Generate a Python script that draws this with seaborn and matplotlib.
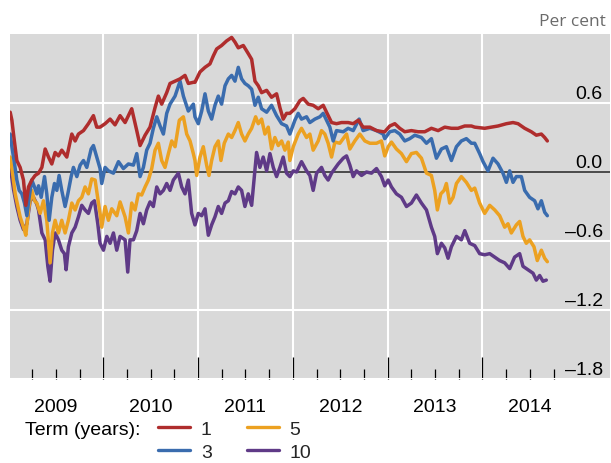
import matplotlib
matplotlib.use("Agg")
from matplotlib import pyplot as plt
from matplotlib.lines import Line2D
import pandas as pd
import seaborn as sns

# values: time as decimal year, spread in per cent
t_1 = [2009.018, 2009.036, 2009.053, 2009.088, 2009.123, 2009.158, 2009.183, 2009.211, 2009.246, 2009.281,
       2009.317, 2009.352, 2009.387, 2009.422, 2009.457, 2009.492, 2009.527, 2009.562, 2009.615, 2009.668,
       2009.703, 2009.738, 2009.791, 2009.843, 2009.896, 2009.931,
       2009.966, 2010.019, 2010.072, 2010.124, 2010.177, 2010.230, 2010.300, 2010.353, 2010.388, 2010.441,
       2010.493, 2010.546, 2010.581, 2010.616, 2010.669, 2010.704, 2010.757, 2010.810, 2010.862, 2010.897, 2010.950,
       2010.967, 2011.020, 2011.073, 2011.125, 2011.161, 2011.196, 2011.248, 2011.301, 2011.354, 2011.389,
       2011.424, 2011.477, 2011.529, 2011.565, 2011.600, 2011.635, 2011.670, 2011.723, 2011.775, 2011.828,
       2011.863, 2011.898, 2011.933,
       2011.968, 2012.021, 2012.074, 2012.109, 2012.162, 2012.214, 2012.267, 2012.320, 2012.355, 2012.408,
       2012.460, 2012.513, 2012.583, 2012.636, 2012.689, 2012.741, 2012.812, 2012.882, 2012.952,
       2012.969, 2013.022, 2013.075, 2013.127, 2013.180, 2013.250, 2013.321, 2013.391, 2013.461, 2013.532,
       2013.602, 2013.672, 2013.742, 2013.813, 2013.883,
       2013.918, 2014.023, 2014.093, 2014.164, 2014.252, 2014.322, 2014.375, 2014.445, 2014.515, 2014.568,
       2014.621, 2014.656, 2014.684]
y_1 = [0.52, 0.45, 0.33, 0.10, 0.04, -0.07, -0.29, -0.13, -0.07, -0.03,
       -0.01, 0.04, 0.20, 0.13, 0.07, 0.17, 0.14, 0.19, 0.13, 0.33,
       0.27, 0.33, 0.36, 0.42, 0.49, 0.39,
       0.39, 0.42, 0.46, 0.41, 0.49, 0.43, 0.55, 0.36, 0.23, 0.32,
       0.39, 0.56, 0.66, 0.59, 0.69, 0.77, 0.79, 0.81, 0.84, 0.77, 0.78,
       0.78, 0.87, 0.91, 0.94, 1.01, 1.07, 1.10, 1.14, 1.17, 1.13,
       1.08, 1.10, 1.03, 0.98, 0.79, 0.75, 0.69, 0.71, 0.65, 0.68,
       0.56, 0.46, 0.51,
       0.51, 0.55, 0.62, 0.64, 0.59, 0.58, 0.55, 0.58, 0.52, 0.43,
       0.42, 0.43, 0.43, 0.42, 0.45, 0.39, 0.39, 0.36, 0.35,
       0.35, 0.40, 0.42, 0.38, 0.35, 0.36, 0.35, 0.35, 0.38, 0.36,
       0.39, 0.38, 0.38, 0.40, 0.40,
       0.39, 0.38, 0.39, 0.40, 0.42, 0.43, 0.42, 0.38, 0.35, 0.32,
       0.33, 0.30, 0.27]

t_3 = [2009.018, 2009.036, 2009.064, 2009.088, 2009.113, 2009.141, 2009.169, 2009.194, 2009.218, 2009.246,
       2009.274, 2009.299, 2009.317, 2009.345, 2009.380, 2009.404, 2009.429, 2009.457, 2009.485, 2009.510,
       2009.534, 2009.562, 2009.597, 2009.626, 2009.661, 2009.685, 2009.721, 2009.756, 2009.791, 2009.826,
       2009.872, 2009.896, 2009.931,
       2009.966, 2009.984, 2010.019, 2010.054, 2010.107, 2010.160, 2010.212, 2010.265, 2010.318, 2010.353,
       2010.388, 2010.423, 2010.458, 2010.493, 2010.528, 2010.564, 2010.599, 2010.634, 2010.669, 2010.704,
       2010.757, 2010.810, 2010.845, 2010.897, 2010.950,
       2010.967, 2011.002, 2011.038, 2011.073, 2011.108, 2011.143, 2011.178, 2011.213, 2011.248, 2011.284,
       2011.319, 2011.354, 2011.389, 2011.424, 2011.459, 2011.494, 2011.529, 2011.565, 2011.600, 2011.635,
       2011.670, 2011.723, 2011.775, 2011.828, 2011.881, 2011.933,
       2011.968, 2012.021, 2012.056, 2012.091, 2012.144, 2012.179, 2012.232, 2012.285, 2012.320, 2012.355,
       2012.390, 2012.425, 2012.460, 2012.531, 2012.583, 2012.636, 2012.699, 2012.741, 2012.812, 2012.882,
       2012.952,
       2012.969, 2013.022, 2013.075, 2013.127, 2013.180, 2013.233, 2013.286, 2013.356, 2013.409, 2013.461,
       2013.514, 2013.567, 2013.619, 2013.672, 2013.725, 2013.777, 2013.830, 2013.883,
       2013.918, 2013.970, 2014.006, 2014.058, 2014.111, 2014.164, 2014.216, 2014.252, 2014.287, 2014.322,
       2014.357, 2014.410, 2014.445, 2014.497, 2014.550, 2014.585, 2014.621, 2014.656, 2014.684]
y_3 = [0.33, 0.22, 0.07, -0.07, -0.16, -0.19, -0.27, -0.38, -0.22, -0.07,
       -0.13, -0.19, -0.12, -0.22, -0.04, -0.19, -0.42, -0.22, -0.10, -0.16,
       -0.03, -0.16, -0.30, -0.19, -0.04, 0.04, -0.04, 0.06, 0.10, 0.04,
       0.20, 0.23, 0.13,
       0.03, -0.10, 0.04, 0.01, -0.01, 0.09, 0.03, 0.07, 0.06, 0.16,
       -0.04, 0.04, 0.19, 0.25, 0.38, 0.48, 0.40, 0.33, 0.51, 0.59,
       0.66, 0.79, 0.66, 0.53, 0.59,
       0.48, 0.42, 0.53, 0.68, 0.53, 0.46, 0.58, 0.66, 0.59, 0.75,
       0.81, 0.84, 0.79, 0.91, 0.81, 0.77, 0.75, 0.72, 0.58, 0.65,
       0.55, 0.52, 0.58, 0.49, 0.42, 0.40,
       0.33, 0.45, 0.51, 0.46, 0.48, 0.43, 0.46, 0.48, 0.51, 0.45,
       0.39, 0.27, 0.36, 0.35, 0.38, 0.36, 0.46, 0.36, 0.38, 0.36,
       0.33,
       0.29, 0.35, 0.36, 0.33, 0.27, 0.29, 0.32, 0.30, 0.25, 0.29,
       0.12, 0.20, 0.22, 0.10, 0.22, 0.27, 0.29, 0.25,
       0.25, 0.16, 0.09, 0.01, 0.12, 0.07, -0.01, -0.09, 0.01, -0.09,
       -0.04, -0.04, -0.16, -0.22, -0.25, -0.32, -0.25, -0.35, -0.38]

t_5 = [2009.018, 2009.043, 2009.071, 2009.099, 2009.123, 2009.158, 2009.183, 2009.211, 2009.246, 2009.274,
       2009.299, 2009.334, 2009.369, 2009.404, 2009.439, 2009.464, 2009.492, 2009.527, 2009.562, 2009.597,
       2009.632, 2009.668, 2009.703, 2009.738, 2009.773, 2009.808, 2009.843, 2009.878, 2009.914, 2009.949,
       2009.966, 2009.984, 2010.019, 2010.054, 2010.089, 2010.142, 2010.177, 2010.230, 2010.265, 2010.300,
       2010.335, 2010.370, 2010.405, 2010.441, 2010.476, 2010.511, 2010.546, 2010.581, 2010.616, 2010.651,
       2010.687, 2010.722, 2010.757, 2010.802, 2010.845, 2010.880, 2010.915, 2010.950,
       2010.967, 2010.985, 2011.020, 2011.055, 2011.090, 2011.115, 2011.143, 2011.178, 2011.213, 2011.241,
       2011.276, 2011.319, 2011.354, 2011.389, 2011.424, 2011.459, 2011.494, 2011.529, 2011.565, 2011.607,
       2011.635, 2011.670, 2011.705, 2011.740, 2011.775, 2011.810, 2011.846, 2011.881, 2011.916, 2011.951,
       2011.968, 2012.004, 2012.056, 2012.091, 2012.144, 2012.179, 2012.214, 2012.267, 2012.302, 2012.337,
       2012.372, 2012.408, 2012.443, 2012.495, 2012.566, 2012.601, 2012.653, 2012.706, 2012.759, 2012.812,
       2012.882, 2012.934,
       2012.969, 2013.005, 2013.040, 2013.092, 2013.145, 2013.198, 2013.250, 2013.303, 2013.356, 2013.409,
       2013.461, 2013.496, 2013.524, 2013.560, 2013.595, 2013.619, 2013.654, 2013.690, 2013.725, 2013.777,
       2013.830, 2013.883,
       2013.918, 2013.970, 2014.023, 2014.076, 2014.129, 2014.181, 2014.234, 2014.269, 2014.304, 2014.357,
       2014.392, 2014.427, 2014.462, 2014.497, 2014.543, 2014.578, 2014.621, 2014.656, 2014.684]
y_5 = [0.13, -0.01, -0.19, -0.30, -0.39, -0.48, -0.55, -0.33, -0.16, -0.25,
       -0.27, -0.36, -0.25, -0.42, -0.79, -0.53, -0.42, -0.53, -0.42, -0.53,
       -0.42, -0.27, -0.33, -0.25, -0.22, -0.13, -0.19, -0.06, -0.07, -0.27,
       -0.36, -0.48, -0.30, -0.42, -0.32, -0.38, -0.26, -0.39, -0.53, -0.27,
       -0.33, -0.19, -0.20, -0.13, -0.07, 0.03, 0.19, 0.25, 0.10, 0.04,
       0.16, 0.27, 0.22, 0.45, 0.48, 0.33, 0.27, 0.16,
       0.10, -0.03, 0.13, 0.22, 0.06, -0.03, 0.10, 0.22, 0.27, 0.10,
       0.25, 0.33, 0.30, 0.36, 0.43, 0.33, 0.27, 0.33, 0.38, 0.48,
       0.42, 0.46, 0.33, 0.39, 0.20, 0.30, 0.23, 0.27, 0.19, 0.26,
       0.10, 0.22, 0.33, 0.38, 0.30, 0.33, 0.19, 0.27, 0.36, 0.33,
       0.25, 0.13, 0.26, 0.25, 0.33, 0.20, 0.27, 0.33, 0.27, 0.25,
       0.25, 0.27,
       0.14, 0.22, 0.26, 0.20, 0.16, 0.09, 0.16, 0.17, 0.12, -0.01,
       -0.03, -0.16, -0.33, -0.19, -0.16, -0.10, -0.27, -0.22, -0.10, -0.04,
       -0.09, -0.16,
       -0.14, -0.27, -0.36, -0.29, -0.33, -0.38, -0.48, -0.45, -0.53, -0.46,
       -0.43, -0.56, -0.62, -0.59, -0.65, -0.77, -0.68, -0.75, -0.78]

t_10 = [2009.018, 2009.053, 2009.088, 2009.123, 2009.158, 2009.194, 2009.229, 2009.264, 2009.299, 2009.317,
        2009.352, 2009.387, 2009.415, 2009.439, 2009.464, 2009.492, 2009.527, 2009.562, 2009.590, 2009.608,
        2009.632, 2009.668, 2009.703, 2009.738, 2009.773, 2009.808, 2009.843, 2009.878, 2009.907, 2009.942,
        2009.966, 2010.002, 2010.037, 2010.072, 2010.107, 2010.142, 2010.177, 2010.230, 2010.258, 2010.282,
        2010.318, 2010.353, 2010.388, 2010.423, 2010.458, 2010.493, 2010.528, 2010.564, 2010.599, 2010.634,
        2010.669, 2010.704, 2010.739, 2010.792, 2010.827, 2010.862, 2010.897, 2010.932,
        2010.967, 2011.002, 2011.038, 2011.073, 2011.108, 2011.143, 2011.178, 2011.213, 2011.248, 2011.284,
        2011.319, 2011.354, 2011.389, 2011.424, 2011.459, 2011.494, 2011.529, 2011.565, 2011.593, 2011.617,
        2011.652, 2011.687, 2011.723, 2011.758, 2011.793, 2011.828, 2011.863, 2011.898, 2011.933,
        2011.968, 2012.004, 2012.039, 2012.091, 2012.144, 2012.179, 2012.214, 2012.250, 2012.302, 2012.337,
        2012.372, 2012.408, 2012.443, 2012.478, 2012.531, 2012.566, 2012.601, 2012.636, 2012.671, 2012.724,
        2012.776, 2012.829, 2012.882, 2012.934,
        2012.969, 2013.005, 2013.040, 2013.092, 2013.145, 2013.198, 2013.250, 2013.303, 2013.356, 2013.409,
        2013.461, 2013.496, 2013.524, 2013.567, 2013.602, 2013.637, 2013.672, 2013.725, 2013.777, 2013.813,
        2013.865,
        2013.918, 2013.970, 2014.023, 2014.076, 2014.129, 2014.181, 2014.234, 2014.287, 2014.339, 2014.392,
        2014.427, 2014.480, 2014.533, 2014.568, 2014.603, 2014.638, 2014.673]
y_10 = [0.05, -0.15, -0.30, -0.42, -0.50, -0.45, -0.25, -0.22, -0.28, -0.33,
        -0.53, -0.59, -0.82, -0.95, -0.68, -0.53, -0.59, -0.68, -0.71, -0.85,
        -0.65, -0.53, -0.48, -0.39, -0.29, -0.33, -0.36, -0.27, -0.25, -0.45,
        -0.62, -0.68, -0.56, -0.62, -0.53, -0.68, -0.56, -0.59, -0.87, -0.59,
        -0.59, -0.51, -0.36, -0.45, -0.33, -0.26, -0.30, -0.13, -0.19, -0.16,
        -0.10, -0.16, -0.07, -0.01, -0.13, -0.19, -0.07, -0.36,
        -0.46, -0.36, -0.38, -0.32, -0.55, -0.46, -0.39, -0.30, -0.36, -0.27,
        -0.25, -0.17, -0.19, -0.13, -0.16, -0.30, -0.19, -0.29, -0.04, 0.17,
        0.04, 0.13, 0.01, 0.16, 0.04, -0.04, 0.04, 0.13, -0.01,
        -0.04, 0.01, 0.00, 0.09, 0.01, -0.03, -0.16, -0.01, 0.04, -0.03,
        -0.07, -0.01, 0.03, 0.07, 0.12, 0.14, 0.06, -0.04, 0.01, -0.03,
        0.00, -0.01, 0.03, -0.04,
        -0.12, -0.07, -0.13, -0.19, -0.22, -0.30, -0.27, -0.20, -0.27, -0.33,
        -0.48, -0.56, -0.71, -0.62, -0.66, -0.75, -0.65, -0.56, -0.59, -0.51,
        -0.62,
        -0.64, -0.71, -0.72, -0.71, -0.74, -0.77, -0.79, -0.84, -0.74, -0.71,
        -0.82, -0.85, -0.88, -0.94, -0.90, -0.95, -0.94]

terms = ["1", "3", "5", "10"]
colors = ["#AF2D2D", "#3A6CAE", "#ECA121", "#5F3A87"]
years = [2009, 2010, 2011, 2012, 2013, 2014]
yticks = [0.6, 0.0, -0.6, -1.2, -1.8]
ytick_labels = ["0.6", "0.0", "\u20130.6", "\u20131.2", "\u20131.8"]

# long table, one row per reading
frames = []
for term, t, y in zip(terms, [t_1, t_3, t_5, t_10], [y_1, y_3, y_5, y_10]):
    frames.append(pd.DataFrame({"year": t, "value": y, "term": term}))
df = pd.concat(frames, ignore_index=True)

sns.set_style("dark", {"axes.facecolor": "#D9D9D9"})
plt.rcParams["font.family"] = ["Liberation Sans", "DejaVu Sans"]

fig = plt.figure(figsize=(6.11, 4.64), dpi=100)
ax = fig.add_axes([10 / 611, 1 - 380 / 464, 600 / 611, 345 / 464])

# 10 year first so the 1 year line ends up on top
for term, col in reversed(list(zip(terms, colors))):
    sns.lineplot(data=df[df.term == term], x="year", y="value", color=col,
                 linewidth=2.5, estimator=None, sort=False, ax=ax, zorder=3)

ax.axhline(0, color="#3c3c3c", linewidth=1.3, zorder=2)

ax.set_xlim(2009.016, 2015.345)
ax.set_ylim(-1.8, 1.2)
ax.set_xlabel("")
ax.set_ylabel("")
for s in ax.spines.values():
    s.set_visible(False)

# year boundaries = long ticks + white grid, quarters = short ticks, year name mid-year
ax.set_xticks(years[1:])
ax.set_xticklabels([])
quarters = [y + q for y in years for q in (0.25, 0.5, 0.75)]
ax.set_xticks(quarters, minor=True)
ax.set_xticklabels([str(int(q)) if q % 1 == 0.5 else "" for q in quarters], minor=True)
ax.tick_params(axis="x", which="major", bottom=True, direction="in", length=16, width=0.9, color="black")
ax.tick_params(axis="x", which="minor", bottom=True, direction="in", length=7.5, width=0.9, color="black",
               pad=13.5, labelsize=14, labelcolor="black")

ax.set_yticks(yticks)
ax.tick_params(axis="y", left=False, labelleft=False)
ax.grid(True, axis="both", which="major", color="white", linewidth=1.5)
ax.set_axisbelow(True)

for v, lab in zip(yticks, ytick_labels):
    ax.text(0.988, v + 0.01, lab, transform=ax.get_yaxis_transform(), ha="right", va="bottom",
            fontsize=14, color="black")

fig.text(606 / 611, 1 - 22 / 464, "Per cent", ha="right", va="center", fontsize=12.5,
         color="#6b6b6b", family=["Open Sans", "DejaVu Sans"])

# legend
fig.text(25 / 611, 1 - 431 / 464, "Term (years):", ha="left", va="center", fontsize=14, color="black")
handles = [Line2D([], [], color=c, linewidth=2.4) for c in colors]
fig.legend(handles, terms, ncol=2, loc="upper left", bbox_to_anchor=(158 / 611, 1 - 421 / 464),
           frameon=False, borderpad=0, borderaxespad=0, handlelength=1.65, handletextpad=0.55,
           columnspacing=1.8, labelspacing=0.3, fontsize=14)

fig.savefig("out.png", dpi=100)
